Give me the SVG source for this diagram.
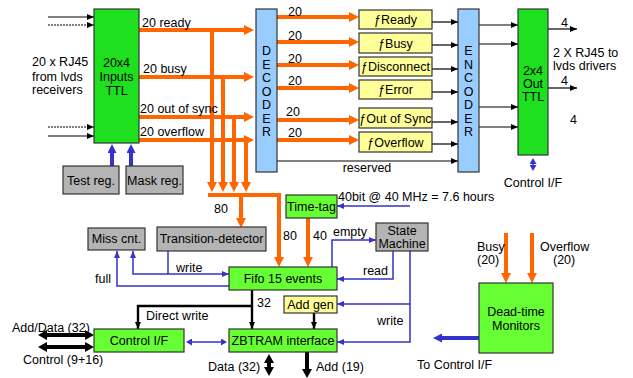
<svg xmlns="http://www.w3.org/2000/svg" width="633" height="378" viewBox="0 0 633 378">
<style>
text{font-family:"Liberation Sans",Arial,sans-serif;font-size:12.5px;fill:#000}
.c{text-anchor:middle}
.box{stroke:#333;stroke-width:1.2}
.g1{fill:#1ee01e}
.g2{fill:#66ff33}
.y{fill:#ffff99}
.b{fill:#99ccff}
.gr{fill:#b4b4b4}
.or{fill:none;stroke:#ff6600;stroke-width:4}
.bk{fill:none;stroke:#000;stroke-width:1.2}
.bk2{fill:none;stroke:#000;stroke-width:2.4}
.bk4{fill:none;stroke:#000;stroke-width:4}
.bl{fill:none;stroke:#3333cc;stroke-width:1.5}
.bl4{fill:none;stroke:#3333cc;stroke-width:4}
</style>
<defs>
<marker id="oa" viewBox="0 0 10 10" markerWidth="10" markerHeight="10" markerUnits="userSpaceOnUse" refX="1" refY="5" orient="auto-start-reverse"><path d="M0,0 L10,5 L0,10 z" fill="#ff6600"/></marker>
<marker id="ba" viewBox="0 0 7 6" markerWidth="7" markerHeight="6" markerUnits="userSpaceOnUse" refX="7" refY="3" orient="auto-start-reverse"><path d="M0,0 L7,3 L0,6 z" fill="#000"/></marker>
<marker id="bka" viewBox="0 0 9 10" markerWidth="9" markerHeight="10" markerUnits="userSpaceOnUse" refX="1" refY="5" orient="auto-start-reverse"><path d="M0,0 L9,5 L0,10 z" fill="#000"/></marker>
<marker id="bla" viewBox="0 0 7 6" markerWidth="7" markerHeight="6" markerUnits="userSpaceOnUse" refX="7" refY="3" orient="auto-start-reverse"><path d="M0,0 L7,3 L0,6 z" fill="#3333cc"/></marker>
<marker id="bla4" viewBox="0 0 9 9" markerWidth="9" markerHeight="9" markerUnits="userSpaceOnUse" refX="1" refY="4.5" orient="auto-start-reverse"><path d="M0,0 L9,4.5 L0,9 z" fill="#3333cc"/></marker>
<marker id="bla3" viewBox="0 0 6 7" markerWidth="6" markerHeight="7" markerUnits="userSpaceOnUse" refX="1" refY="3.5" orient="auto-start-reverse"><path d="M0,0 L6,3.5 L0,7 z" fill="#3333cc"/></marker>
</defs>

<g id="connectors">
<!-- input black lines -->
<path class="bk" d="M48,17 H94" marker-end="url(#ba)"/>
<path class="bk" d="M48,25 H94" stroke-dasharray="2,1" marker-end="url(#ba)"/>
<path class="bk" d="M48,127 H94" stroke-dasharray="2,1" marker-end="url(#ba)"/>
<path class="bk" d="M48,136 H94" marker-end="url(#ba)"/>
<!-- orange rows -->
<path class="or" d="M139,30 H245" marker-end="url(#oa)"/>
<path class="or" d="M139,77 H245" marker-end="url(#oa)"/>
<path class="or" d="M139,117 H245" marker-end="url(#oa)"/>
<path class="or" d="M139,140 H245" marker-end="url(#oa)"/>
<path class="or" d="M212,30 V183" marker-end="url(#oa)"/>
<path class="or" d="M223,77 V183" marker-end="url(#oa)"/>
<path class="or" d="M234,117 V183" marker-end="url(#oa)"/>
<path class="or" d="M246,140 V183" marker-end="url(#oa)"/>
<path class="or" d="M208,195 H279 V258" marker-end="url(#oa)"/>
<path class="or" d="M241,195 V219" marker-end="url(#oa)"/>
<path class="or" d="M308,218 V258" marker-end="url(#oa)"/>
<!-- decoder outputs -->
<path class="or" d="M277,17 H350" marker-end="url(#oa)"/>
<path class="or" d="M277,42 H350" marker-end="url(#oa)"/>
<path class="or" d="M277,65 H350" marker-end="url(#oa)"/>
<path class="or" d="M277,88 H350" marker-end="url(#oa)"/>
<path class="or" d="M277,120 H350" marker-end="url(#oa)"/>
<path class="or" d="M277,140 H350" marker-end="url(#oa)"/>
<!-- f-blocks to encoder -->
<path class="bk" d="M432,22 H458" marker-end="url(#ba)"/>
<path class="bk" d="M432,45 H458" marker-end="url(#ba)"/>
<path class="bk" d="M432,69 H458" marker-end="url(#ba)"/>
<path class="bk" d="M432,92 H458" marker-end="url(#ba)"/>
<path class="bk" d="M432,122 H458" marker-end="url(#ba)"/>
<path class="bk" d="M432,144 H458" marker-end="url(#ba)"/>
<path class="bk" d="M277,161 H458" marker-end="url(#ba)"/>
<!-- encoder to out -->
<path class="bk" d="M479,25 H518" marker-end="url(#ba)"/>
<path class="bk" d="M479,44 H518" marker-end="url(#ba)"/>
<path class="bk" d="M479,107 H518" marker-end="url(#ba)"/>
<path class="bk" d="M479,127 H518" marker-end="url(#ba)"/>
<path class="bk" d="M548,29 H577" marker-end="url(#ba)"/>
<path class="bk" d="M548,88 H577" marker-end="url(#ba)"/>
<path class="bl" stroke-width="3" d="M533,163 V166" marker-start="url(#bla3)" marker-end="url(#bla3)"/>
<!-- reg arrows -->
<path class="bl4" d="M112,166 V152" marker-end="url(#bla4)"/>
<path class="bl4" d="M131,166 V152" marker-end="url(#bla4)"/>
<!-- blue control -->
<path class="bl" d="M168,251 V274 H229" marker-end="url(#bla)"/>
<path class="bl" d="M168,274 H133 V251" marker-end="url(#bla)"/>
<path class="bl" d="M229,286 H117 V251" marker-end="url(#bla)"/>
<path class="bl" d="M332,267 V240 H376" marker-end="url(#bla)"/>
<path class="bl" d="M393,251 V279 H337" marker-end="url(#bla)"/>
<path class="bl" d="M410,251 V342 H337" marker-end="url(#bla)"/>
<path class="bl" d="M410,304 H337" marker-end="url(#bla)"/>
<path class="bl" d="M410,206 H337" marker-end="url(#bla)"/>
<path class="bl" stroke-width="2.5" d="M191,342 H222" marker-start="url(#bla3)" marker-end="url(#bla3)"/>
<path class="bl4" d="M479,338 H441" marker-end="url(#bla4)"/>
<!-- black data -->
<path class="bk2" d="M252,290 V329" marker-end="url(#ba)"/>
<path class="bk2" d="M252,306 H138 V329" marker-end="url(#ba)"/>
<path class="bk2" d="M314,313 V329" marker-end="url(#ba)"/>
<path class="bk4" d="M46,335 H86" marker-start="url(#bka)" marker-end="url(#bka)"/>
<path class="bk4" d="M46,347 H86" marker-start="url(#bka)" marker-end="url(#bka)"/>
<path class="bk4" d="M269,362 V368" marker-start="url(#bka)" marker-end="url(#bka)"/>
<path class="bk4" d="M307,352 V370" marker-end="url(#bka)"/>
<!-- dead-time inputs -->
<path class="or" d="M506,233 V274" marker-end="url(#oa)"/>
<path class="or" d="M532,233 V274" marker-end="url(#oa)"/>
</g>

<g id="labels">
<text x="32" y="66">20 x RJ45</text>
<text x="32" y="81">from lvds</text>
<text x="32" y="94">receivers</text>
<text x="142" y="27">20 ready</text>
<text x="143" y="73">20 busy</text>
<text x="140" y="113">20 out of sync</text>
<text x="140" y="136">20 overflow</text>
<text x="288" y="16">20</text>
<text x="288" y="40">20</text>
<text x="288" y="63">20</text>
<text x="288" y="85">20</text>
<text x="286" y="116">20</text>
<text x="288" y="137">20</text>
<text x="367" y="172" class="c">reserved</text>
<text x="561" y="27">4</text>
<text x="561" y="85">4</text>
<text x="570" y="124">4</text>
<text x="553" y="57">2 X RJ45 to</text>
<text x="553" y="70">lvds drivers</text>
<text x="533" y="187" class="c">Control I/F</text>
<text x="338" y="201">40bit @ 40 MHz = 7.6 hours</text>
<text x="214" y="213">80</text>
<text x="283" y="240">80</text>
<text x="313" y="240">40</text>
<text x="333" y="236">empty</text>
<text x="176" y="272">write</text>
<text x="95" y="283">full</text>
<text x="363" y="275">read</text>
<text x="377" y="325">write</text>
<text x="257" y="307">32</text>
<text x="146" y="320">Direct write</text>
<text x="12" y="332">Add/Data (32)</text>
<text x="23" y="364">Control (9+16)</text>
<text x="208" y="371">Data (32)</text>
<text x="316" y="371">Add (19)</text>
<text x="477" y="251">Busy</text>
<text x="477" y="264">(20)</text>
<text x="540" y="251">Overflow</text>
<text x="553" y="264">(20)</text>
<text x="417" y="369">To Control I/F</text>
</g>

<g id="inputs-ttl">
<rect class="box g1" x="94" y="9" width="45" height="134"/>
<text x="116.5" y="67" class="c">20x4</text>
<text x="116.5" y="81" class="c">Inputs</text>
<text x="116.5" y="95" class="c">TTL</text>
</g>
<g id="test-reg"><rect class="box gr" x="63" y="166" width="56" height="28"/><text x="91" y="185" class="c">Test reg.</text></g>
<g id="mask-reg"><rect class="box gr" x="126" y="166" width="57" height="28"/><text x="154.5" y="185" class="c">Mask reg.</text></g>

<g id="decoder">
<rect class="box b" x="256" y="9" width="21" height="163"/>
<text x="266.5" y="55" class="c">D</text>
<text x="266.5" y="68.5" class="c">E</text>
<text x="266.5" y="82" class="c">C</text>
<text x="266.5" y="95.5" class="c">O</text>
<text x="266.5" y="109" class="c">D</text>
<text x="266.5" y="122.5" class="c">E</text>
<text x="266.5" y="136" class="c">R</text>
</g>
<g id="f-ready"><rect class="box y" x="359" y="10" width="73" height="19"/><text x="395.5" y="24" class="c">ƒReady</text></g>
<g id="f-busy"><rect class="box y" x="359" y="33" width="73" height="20"/><text x="395.5" y="47.5" class="c">ƒBusy</text></g>
<g id="f-disconnect"><rect class="box y" x="359" y="57" width="73" height="19"/><text x="395.5" y="71" class="c">ƒDisconnect</text></g>
<g id="f-error"><rect class="box y" x="359" y="80" width="73" height="19"/><text x="395.5" y="94" class="c">ƒError</text></g>
<g id="f-outofsync"><rect class="box y" x="359" y="108" width="73" height="20"/><text x="395.5" y="122.5" class="c">ƒOut of Sync</text></g>
<g id="f-overflow"><rect class="box y" x="359" y="132" width="73" height="20"/><text x="395.5" y="146.5" class="c">ƒOverflow</text></g>

<g id="encoder">
<rect class="box b" x="458" y="9" width="21" height="163"/>
<text x="468.5" y="55" class="c">E</text>
<text x="468.5" y="68.5" class="c">N</text>
<text x="468.5" y="82" class="c">C</text>
<text x="468.5" y="95.5" class="c">O</text>
<text x="468.5" y="109" class="c">D</text>
<text x="468.5" y="122.5" class="c">E</text>
<text x="468.5" y="136" class="c">R</text>
</g>
<g id="out-ttl">
<rect class="box g1" x="518" y="9" width="30" height="146"/>
<text x="533" y="75" class="c">2x4</text>
<text x="533" y="88" class="c">Out</text>
<text x="533" y="101" class="c">TTL</text>
</g>

<g id="time-tag"><rect class="box g2" x="286" y="195" width="51" height="23"/><text x="311.5" y="211" class="c">Time-tag</text></g>
<g id="miss-cnt"><rect class="box gr" x="88" y="228" width="57" height="22"/><text x="116.5" y="243" class="c">Miss cnt.</text></g>
<g id="transition-detector"><rect class="box gr" x="157" y="227" width="109" height="24"/><text x="211.5" y="243" class="c">Transition-detector</text></g>
<g id="state-machine"><rect class="box gr" x="376" y="223" width="52" height="28"/><text x="402" y="235" class="c">State</text><text x="402" y="248" class="c">Machine</text></g>
<g id="fifo"><rect class="box g2" x="229" y="267" width="108" height="23"/><text x="283" y="283" class="c">Fifo 15 events</text></g>
<g id="add-gen"><rect class="box y" x="284" y="296" width="53" height="17"/><text x="310.5" y="309" class="c">Add gen</text></g>
<g id="zbtram"><rect class="box g2" x="229" y="329" width="108" height="23"/><text x="283" y="345" class="c">ZBTRAM interface</text></g>
<g id="control-if"><rect class="box g2" x="94" y="329" width="90" height="23"/><text x="139" y="345" class="c">Control I/F</text></g>
<g id="dead-time"><rect class="box g2" x="479" y="283" width="74" height="70"/><text x="516" y="316" class="c">Dead-time</text><text x="516" y="330" class="c">Monitors</text></g>
</svg>
